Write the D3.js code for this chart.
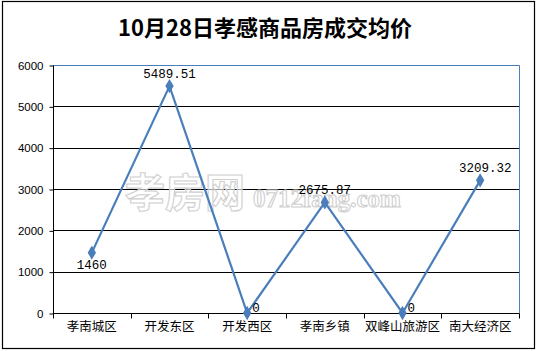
<!DOCTYPE html>
<html><head><meta charset="utf-8">
<script src="https://cdn.jsdelivr.net/npm/d3@7"></script>
<style>body{margin:0;background:#fff}svg{display:block}</style>
</head><body>
<svg id="c" width="536" height="351"></svg>
<script>
const title = "10月28日孝感商品房成交均价";
const categories = ["孝南城区","开发东区","开发西区","孝南乡镇","双峰山旅游区","南大经济区"];
const values = [1460, 5489.51, 0, 2675.87, 0, 3209.32];
const labels = ["1460","5489.51","0","2675.87","0","3209.32"];
const yTicks = [0,1000,2000,3000,4000,5000,6000];

const svg = d3.select("#c");
const m={left:53,right:519,top:65,bottom:313};
const blue="#4a7ebb";

svg.append("rect").attr("x",2.5).attr("y",1.5).attr("width",532).attr("height",347)
  .attr("fill","#fff").attr("stroke","#000").attr("stroke-width",1.2);

svg.append("text").attr("x",265).attr("y",36).attr("text-anchor","middle")
  .attr("font-family","'Noto Sans CJK SC'").attr("font-weight","bold").attr("font-size",22)
  .text(title);

const x=d3.scaleBand().domain(categories).range([m.left,m.right]);
const y=d3.scaleLinear().domain([0,6000]).range([m.bottom,m.top]);

svg.append("g").selectAll("line").data(yTicks.filter(d=>d>0&&d<6000)).join("line")
  .attr("x1",m.left).attr("x2",m.right).attr("y1",d=>Math.round(y(d))+0.5).attr("y2",d=>Math.round(y(d))+0.5)
  .attr("stroke","#000").attr("stroke-width",1);
svg.append("path").attr("d",`M${m.left},${m.top+0.5}H${m.right+0.5}V${m.bottom}`)
  .attr("fill","none").attr("stroke",blue).attr("stroke-width",1);

const ya=svg.append("g").attr("transform",`translate(${m.left+0.5},0.5)`)
  .call(d3.axisLeft(y).tickValues(yTicks).tickSize(4).tickPadding(6).tickFormat(d3.format("d")));
ya.select(".domain").attr("stroke","#000").attr("d",`M0,${m.top}V${m.bottom}`);
ya.selectAll("text").attr("font-family","'Liberation Sans',Arial").attr("font-size",11.5).attr("fill","#000");

const xa=svg.append("g").attr("transform",`translate(0,${m.bottom+0.5})`)
  .call(d3.axisBottom(x).tickSize(0).tickPadding(9));
xa.select(".domain").attr("stroke","#000").attr("d",`M${m.left},0H${m.right+0.5}`);
xa.selectAll("text").attr("font-family","'Noto Sans CJK SC'").attr("font-size",12.5).attr("fill","#000");
xa.selectAll(".bt").data(d3.range(categories.length+1)).join("line").attr("class","bt")
  .attr("x1",i=>Math.round(m.left+i*x.step())+0.5).attr("x2",i=>Math.round(m.left+i*x.step())+0.5)
  .attr("y1",0).attr("y2",5).attr("stroke","#000");

const wm=svg.append("g").attr("fill","#fff").attr("stroke","#cfcfcf").attr("stroke-width",1.1);
wm.append("text").attr("x",125).attr("y",207).attr("font-family","'Noto Sans CJK SC'")
  .attr("font-size",40).attr("font-weight","bold").attr("fill-opacity",0.6).text("孝房网");
wm.append("text").attr("x",253).attr("y",207).attr("font-family","'Liberation Serif'")
  .attr("font-size",25).attr("font-weight","bold").attr("fill-opacity",0.6).text("0712fang.com");

const cx=d=>x(d)+x.bandwidth()/2;
svg.append("path").datum(values).attr("fill","none").attr("stroke",blue).attr("stroke-width",2.2)
  .attr("d",d3.line().x((d,i)=>cx(categories[i])).y(d=>y(d)));
svg.selectAll(".mk").data(values).join("path").attr("class","mk")
  .attr("transform",(d,i)=>`translate(${cx(categories[i])},${y(d)})`)
  .attr("d",d3.symbol(d3.symbolDiamond,60)).attr("fill",blue);

const off=[[0,16,"middle"],[0,-8,"middle"],[5,-1,"start"],[0,-8,"middle"],[5,-1,"start"],[5,-8,"middle"]];
svg.selectAll(".lb").data(values).join("text").attr("class","lb")
  .attr("x",(d,i)=>cx(categories[i])+off[i][0]).attr("y",(d,i)=>y(d)+off[i][1])
  .attr("text-anchor",(d,i)=>off[i][2])
  .attr("font-family","'Liberation Mono'").attr("font-size",12.5).attr("fill","#000")
  .text((d,i)=>labels[i]);
</script>
</body></html>
